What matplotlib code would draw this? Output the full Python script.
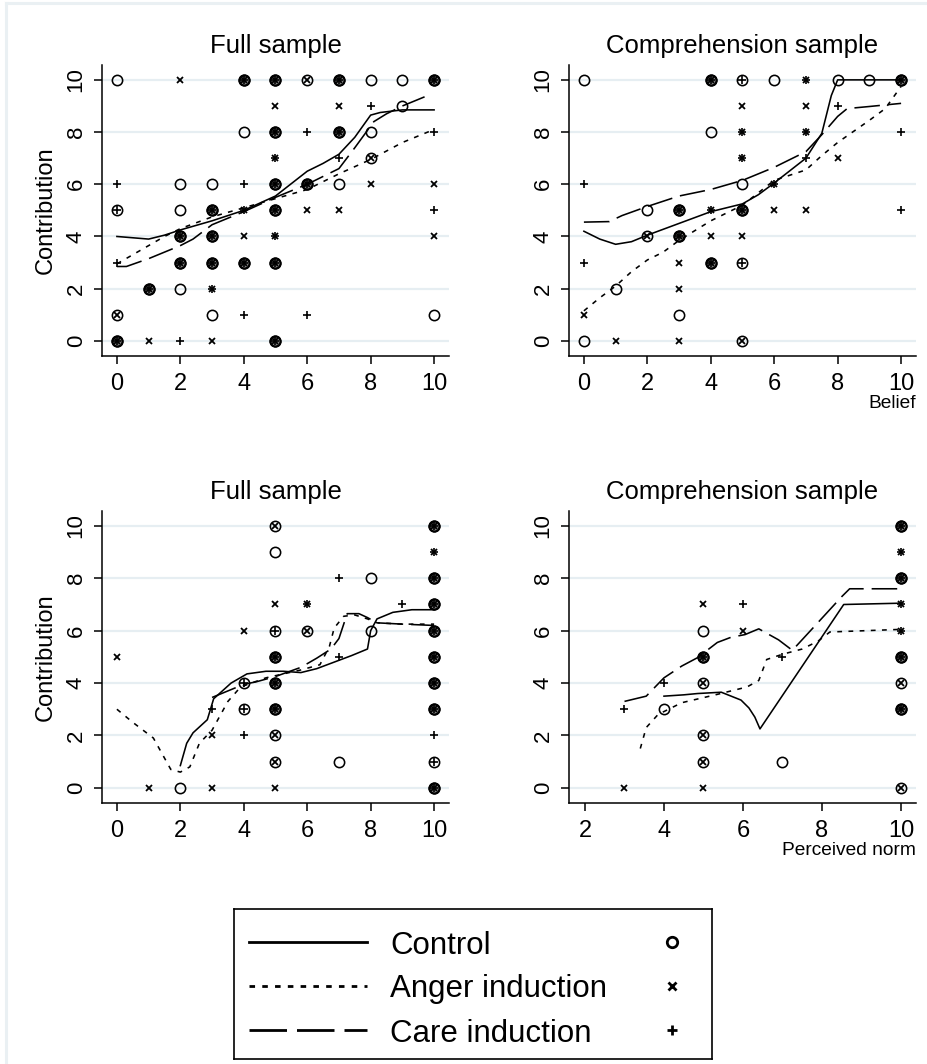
import matplotlib
matplotlib.use("Agg")
import matplotlib.pyplot as plt
from matplotlib.lines import Line2D

plt.rcParams['font.family'] = ['Liberation Sans', 'DejaVu Sans']

# ---------------- data: scatter points (x, y) ----------------
TL_CONTROL = [(0,10),(4,10),(5,10),(6,10),(7,10),(8,10),(9,10),(10,10),(9,9),
              (4,8),(5,8),(7,8),(8,8),(8,7),(2,6),(3,6),(5,6),(6,6),(7,6),
              (0,5),(2,5),(3,5),(5,5),(2,4),(3,4),(2,3),(3,3),(4,3),(5,3),
              (1,2),(2,2),(0,1),(3,1),(10,1),(0,0),(5,0)]
TL_ANGER = [(2,10),(4,10),(5,10),(6,10),(7,10),(10,10),(5,9),(7,9),(5,8),(7,8),
            (5,7),(8,7),(5,6),(6,6),(8,6),(10,6),(3,5),(4,5),(5,5),(6,5),(7,5),
            (2,4),(3,4),(4,4),(5,4),(10,4),(2,3),(3,3),(4,3),(5,3),(1,2),(3,2),
            (0,1),(0,0),(1,0),(3,0),(5,0)]
TL_CARE = [(4,10),(5,10),(7,10),(10,10),(8,9),(5,8),(6,8),(7,8),(10,8),(5,7),(7,7),
           (0,6),(4,6),(5,6),(6,6),(0,5),(3,5),(4,5),(5,5),(10,5),(2,4),(3,4),(5,4),
           (0,3),(2,3),(3,3),(4,3),(5,3),(1,2),(3,2),(4,1),(6,1),(0,0),(2,0),(5,0)]

TR_CONTROL = [(0,10),(4,10),(5,10),(6,10),(8,10),(9,10),(10,10),(4,8),(5,6),
              (2,5),(3,5),(5,5),(2,4),(3,4),(4,3),(5,3),(1,2),(3,1),(0,0),(5,0)]
TR_ANGER = [(4,10),(7,10),(10,10),(5,9),(7,9),(5,8),(7,8),(5,7),(8,7),(6,6),
            (3,5),(4,5),(5,5),(6,5),(7,5),(2,4),(3,4),(4,4),(5,4),(3,3),(4,3),
            (3,2),(0,1),(1,0),(3,0),(5,0)]
TR_CARE = [(4,10),(5,10),(7,10),(10,10),(8,9),(5,8),(7,8),(10,8),(5,7),(7,7),
           (0,6),(6,6),(3,5),(4,5),(5,5),(10,5),(3,4),(0,3),(4,3),(5,3)]

BL_CONTROL = [(5,10),(10,10),(5,9),(8,8),(10,8),(10,7),(5,6),(6,6),(8,6),(10,6),
              (5,5),(10,5),(4,4),(5,4),(10,4),(4,3),(5,3),(10,3),(5,2),
              (5,1),(7,1),(10,1),(2,0),(10,0)]
BL_ANGER = [(5,10),(10,10),(10,9),(10,8),(5,7),(6,7),(10,7),(4,6),(6,6),(10,6),
            (0,5),(5,5),(10,5),(5,4),(10,4),(5,3),(10,3),(3,2),(5,2),(5,1),
            (1,0),(3,0),(5,0),(10,0)]
BL_CARE = [(10,10),(10,9),(7,8),(10,8),(6,7),(9,7),(10,7),(5,6),(10,6),(5,5),(7,5),
           (10,5),(4,4),(5,4),(10,4),(3,3),(4,3),(5,3),(10,3),(4,2),(10,2),
           (10,1),(10,0)]

BR_CONTROL = [(10,10),(10,8),(5,6),(5,5),(10,5),(5,4),(10,4),(4,3),(10,3),(5,2),
              (5,1),(7,1),(10,0)]
BR_ANGER = [(10,10),(10,9),(10,8),(5,7),(10,7),(6,6),(10,6),(5,5),(10,5),(5,4),
            (10,4),(10,3),(5,2),(5,1),(3,0),(5,0),(10,0)]
BR_CARE = [(10,10),(10,9),(10,8),(6,7),(10,7),(10,6),(5,5),(7,5),(10,5),(4,4),
           (3,3),(10,3)]

# ---------------- data: smoothed curves ----------------
TL_CONTROL_LX = [0, 0.5, 1, 1.5, 2, 3, 4, 5, 6, 6.5, 7, 7.5, 8, 8.3, 9, 10]
TL_CONTROL_LY = [4.0, 3.95, 3.9, 4.05, 4.25, 4.6, 5.0, 5.55, 6.5, 6.8, 7.15, 7.8, 8.65, 8.75, 8.85, 8.85]
TL_ANGER_LX = [0, 0.5, 1, 1.5, 2, 3, 4, 5, 6, 7, 8, 9, 10]
TL_ANGER_LY = [2.95, 3.3, 3.65, 4.0, 4.3, 4.75, 5.1, 5.45, 5.8, 6.4, 6.95, 7.6, 8.1]
TL_CARE_LX = [0, 0.3, 1, 1.5, 2, 2.4, 3, 4, 5, 6, 7, 7.5, 7.8, 8.1, 8.5, 9, 9.7]
TL_CARE_LY = [2.85, 2.85, 3.15, 3.4, 3.65, 3.9, 4.45, 4.95, 5.5, 6.0, 6.6, 7.4, 7.9, 8.4, 8.7, 9.0, 9.35]

TR_CONTROL_LX = [0, 0.5, 1, 1.5, 2, 3, 4, 5, 5.5, 6, 7, 7.5, 7.8, 8, 9, 10]
TR_CONTROL_LY = [4.2, 3.9, 3.7, 3.8, 4.05, 4.5, 4.95, 5.25, 5.6, 6.05, 7.0, 7.95, 9.4, 10, 10, 10]
TR_ANGER_LX = [0, 0.5, 1, 1.5, 2, 2.5, 3, 4, 5, 6, 7, 7.5, 8, 9, 9.5, 10]
TR_ANGER_LY = [1.15, 1.65, 2.1, 2.65, 3.1, 3.4, 3.85, 4.6, 5.2, 6.15, 6.55, 7.1, 7.6, 8.45, 8.9, 9.75]
TR_CARE_LX = [0, 0.8, 1.2, 2, 3, 4, 5, 6, 7, 7.5, 8, 8.3, 9, 10]
TR_CARE_LY = [4.55, 4.57, 4.8, 5.15, 5.55, 5.8, 6.15, 6.65, 7.25, 7.9, 8.6, 8.9, 8.98, 9.1]

BL_CONTROL_LX = [2, 2.2, 2.4, 2.85, 3.05, 3.6, 4.1, 4.7, 5.25, 5.8, 6.3, 6.85, 7.4, 7.9, 8.0, 8.2, 8.7, 9.3, 10]
BL_CONTROL_LY = [0.85, 1.7, 2.1, 2.6, 3.4, 4.0, 4.35, 4.45, 4.45, 4.4, 4.55, 4.8, 5.05, 5.3, 6.0, 6.45, 6.7, 6.8, 6.8]
BL_ANGER_LX = [0, 0.5, 1.15, 1.7, 2.0, 2.3, 2.6, 3.0, 3.5, 3.9, 4.7, 5.8, 6.4, 6.7, 6.85, 7.15, 7.5, 7.9, 8.2, 9, 10]
BL_ANGER_LY = [3.0, 2.5, 1.9, 0.7, 0.6, 0.8, 1.7, 2.2, 3.3, 3.85, 4.2, 4.5, 4.7, 5.4, 6.1, 6.55, 6.6, 6.45, 6.3, 6.25, 6.25]
BL_CARE_LX = [3.0, 3.5, 4.0, 4.4, 5.0, 5.8, 6.3, 6.75, 7.0, 7.26, 7.63, 7.9, 8.2, 9, 10]
BL_CARE_LY = [3.45, 3.7, 3.95, 4.05, 4.25, 4.6, 4.95, 5.3, 5.7, 6.65, 6.65, 6.5, 6.3, 6.25, 6.2]

BR_CONTROL_LX = [4.0, 4.5, 4.85, 5.45, 5.95, 6.15, 6.3, 6.43, 8.55, 10]
BR_CONTROL_LY = [3.5, 3.55, 3.6, 3.65, 3.35, 3.05, 2.7, 2.25, 7.0, 7.05]
BR_ANGER_LX = [3.4, 3.55, 3.85, 4.45, 5.3, 6.1, 6.4, 6.6, 7.0, 7.5, 7.9, 8.2, 10]
BR_ANGER_LY = [1.5, 2.3, 2.8, 3.25, 3.55, 3.85, 4.1, 4.9, 5.1, 5.3, 5.6, 5.95, 6.05]
BR_CARE_LX = [3.0, 3.55, 4.0, 4.45, 4.85, 5.35, 5.7, 6.05, 6.4, 6.9, 7.25, 7.8, 8.5, 8.7, 10]
BR_CARE_LY = [3.3, 3.5, 4.2, 4.65, 4.97, 5.55, 5.75, 5.85, 6.07, 5.65, 5.25, 6.15, 7.3, 7.6, 7.6]

TITLES = ["Full sample", "Comprehension sample", "Full sample", "Comprehension sample"]
YTICKS = [0, 2, 4, 6, 8, 10]
XTICKS_FULL = [0, 2, 4, 6, 8, 10]
XTICKS_BR = [2, 4, 6, 8, 10]
LEGEND_LABELS = ["Control", "Anger induction", "Care induction"]

# ---------------- styles ----------------
GRID_C = '#e6eef2'
LS_ANGER = (0, (3.0, 4.0))
LS_CARE = (0, (16, 5))

fig = plt.figure(figsize=(9.28, 10.64), dpi=100)
fig.patch.set_facecolor('white')

# faint outer frame
fig.add_artist(Line2D([6.5/928, 1], [1-3/1064, 1-3/1064], transform=fig.transFigure,
                      color='#eaf0f3', lw=2.2))
fig.add_artist(Line2D([6.5/928, 6.5/928], [0, 1-3/1064], transform=fig.transFigure,
                      color='#eaf0f3', lw=2.2))

positions = [
    [102/928, 1-356/1064, 347/928, 291/1064],
    [569/928, 1-356/1064, 347/928, 291/1064],
    [102/928, 1-803/1064, 347/928, 292/1064],
    [569/928, 1-803/1064, 347/928, 292/1064],
]

panels = [
    (TL_CONTROL, TL_ANGER, TL_CARE, TL_CONTROL_LX, TL_CONTROL_LY, TL_ANGER_LX, TL_ANGER_LY, TL_CARE_LX, TL_CARE_LY),
    (TR_CONTROL, TR_ANGER, TR_CARE, TR_CONTROL_LX, TR_CONTROL_LY, TR_ANGER_LX, TR_ANGER_LY, TR_CARE_LX, TR_CARE_LY),
    (BL_CONTROL, BL_ANGER, BL_CARE, BL_CONTROL_LX, BL_CONTROL_LY, BL_ANGER_LX, BL_ANGER_LY, BL_CARE_LX, BL_CARE_LY),
    (BR_CONTROL, BR_ANGER, BR_CARE, BR_CONTROL_LX, BR_CONTROL_LY, BR_ANGER_LX, BR_ANGER_LY, BR_CARE_LX, BR_CARE_LY),
]

for i, (pos, pdata) in enumerate(zip(positions, panels)):
    ax = fig.add_axes(pos)
    ctrl, ang, care, cx, cy, ax_, ay, kx, ky = pdata
    for yv in YTICKS:
        ax.axhline(yv, color=GRID_C, lw=1.6, zorder=0)
    # points shared by all three groups look darker (heavy overplotting)
    triple = [p for p in ctrl if p in ang and p in care]
    ax.plot([p[0] for p in triple], [p[1] for p in triple], ls='none', marker='o', ms=7.4,
            mfc='#858585', mec='black', mew=1.5, zorder=2)
    ax.plot([p[0] for p in ctrl], [p[1] for p in ctrl], ls='none', marker='o', ms=7.4,
            mfc='none', mec='black', mew=1.15, zorder=3)
    ax.plot([p[0] for p in ang], [p[1] for p in ang], ls='none', marker='x', ms=4.6,
            mec='black', mew=1.3, zorder=3)
    ax.plot([p[0] for p in care], [p[1] for p in care], ls='none', marker='+', ms=5.6,
            mec='black', mew=1.2, zorder=3)
    ax.plot(cx, cy, color='black', lw=1.15, ls='-', zorder=4)
    ax.plot(ax_, ay, color='black', lw=1.15, ls=LS_ANGER, zorder=4)
    ax.plot(kx, ky, color='black', lw=1.15, ls=LS_CARE, zorder=4)

    ax.set_ylim(-0.58, 10.57)
    if i == 3:
        ax.set_xlim(1.595, 10.38)
        ax.set_xticks(XTICKS_BR)
    else:
        ax.set_xlim(-0.47, 10.47)
        ax.set_xticks(XTICKS_FULL)
    ax.set_yticks(YTICKS)
    for s in ['top', 'right']:
        ax.spines[s].set_visible(False)
    for s in ['left', 'bottom']:
        ax.spines[s].set_linewidth(1.1)
    ax.tick_params(axis='x', length=6, width=1.1, pad=6, labelsize=17)
    ax.tick_params(axis='y', length=6, width=1.1, pad=5, labelsize=16, labelrotation=90)
    for lab in ax.get_yticklabels():
        lab.set_va('center')
    ax.set_title(TITLES[i], fontsize=18.5, pad=9)
    if i in (0, 2):
        ax.set_ylabel('Contribution', fontsize=17, va='center')
        ax.yaxis.set_label_coords(-0.163, 0.5)
    if i == 1:
        ax.set_xlabel('Belief', fontsize=13.8, loc='right', labelpad=0)
    if i == 3:
        ax.set_xlabel('Perceived norm', fontsize=13.8, loc='right', labelpad=0)

# ---------------- legend box ----------------
lax = fig.add_axes([234/928, 1-1059/1064, 478/928, 150/1064])
lax.set_xlim(0, 478)
lax.set_ylim(150, 0)
lax.set_xticks([])
lax.set_yticks([])
for s in lax.spines.values():
    s.set_linewidth(1.2)
row_y = [33, 77, 121]
line_styles = ['-', (0, (2.0, 2.6)), (0, (13.5, 3.6))]
markers = [('o', 7.5, 2.0, 'none'), ('x', 5.5, 2.0, 'black'), ('+', 6.5, 2.0, 'black')]
for ry, lab, lsy, (mk, ms, mw, mf) in zip(row_y, LEGEND_LABELS, line_styles, markers):
    lax.plot([15, 133], [ry, ry], color='black', lw=2.0, ls=lsy)
    lax.text(156, ry, lab, fontsize=22.5, va='center_baseline', ha='left')
    lax.plot([438], [ry], marker=mk, ms=ms, mew=mw, mfc=mf, mec='black', ls='none')

fig.savefig('out.png', dpi=100, facecolor='white')
